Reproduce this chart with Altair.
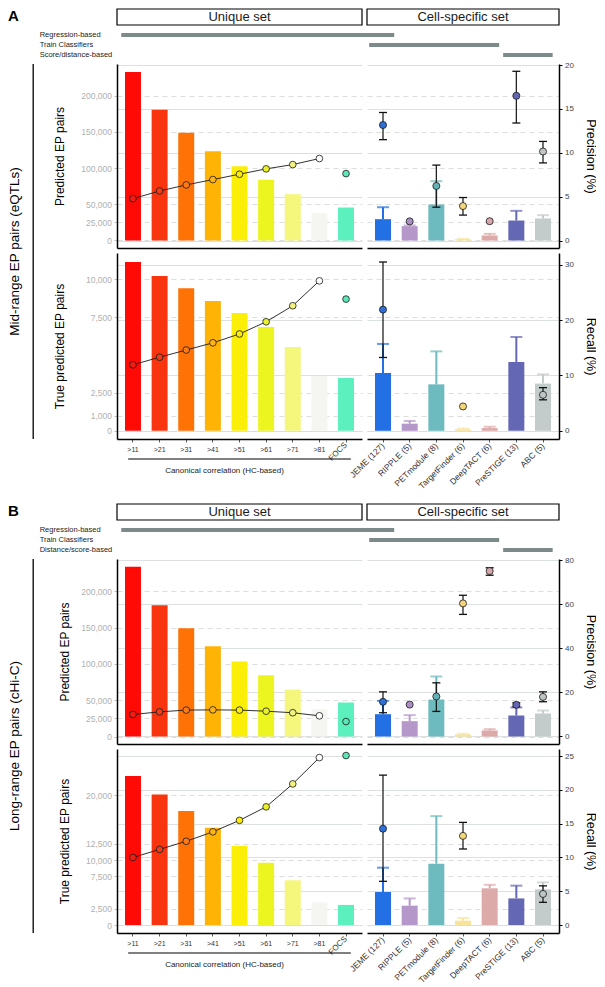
import altair as alt
import pandas as pd

FONT = "Liberation Sans"
W1, W2 = 245, 192          # plot widths of the two facets
STEP = W1 / 9.2            # category step in px

# ---------------- categories & colours ----------------
unique_cats = [">11", ">21", ">31", ">41", ">51", ">61", ">71", ">81", "FOCS"]
unique_colors = ["#FF0A05", "#F8350F", "#FF7205", "#FFB405", "#FBEF08", "#ECF520", "#F5F77C", "#F5F6F2", "#5CF0BE"]
unique_point_colors = ["#F31B12", "#F53A14", "#FF7A14", "#FFB414", "#FAEB10", "#E9F12A", "#F2F27E", "#FFFFFF", "#5AE6B6"]

cell_methods = ["JEME (127)", "RIPPLE (5)", "PETmodule (8)", "TargetFinder (6)",
                "DeepTACT (6)", "PreSTIGE (13)", "ABC (5)"]
cell_bar_colors = ["#2270E3", "#B597C9", "#6DBBBE", "#F8E39B", "#DDAAAA", "#6467B3", "#C3CBCB"]
cell_point_colors = ["#2E6FD8", "#A98FC4", "#62B3B8", "#F4D67A", "#D6A6A9", "#6467B3", "#BFC5C5"]

# ---------------- header groups ----------------
group_labels_A = ["Regression-based", "Train Classifiers", "Score/distance-based"]
group_labels_B = ["Regression-based", "Train Classifiers", "Distance/score-based"]
group_start = [0.16, 9.47, 14.50]   # in category steps from the left edge of the unique facet
group_end = [10.41, 14.35, 16.36]
group_row = [24, 14, 4]             # header rows (px above header bottom)
BOX_LO, BOX_HI = 34, 50

# ---------------- Panel A : mid-range (eQTLs) ----------------
A_pred = [233000, 180600, 148800, 123500, 102800, 83900, 64000, 37800, 45600]
A_prec = [4.77, 5.65, 6.34, 6.95, 7.56, 8.17, 8.66, 9.35, 7.63]
A_cell_pred = [29500, 19800, 49800, 1800, 6900, 27600, 30400]
A_cell_pred_hi = [46000, 20800, 82000, 2300, 9200, 41000, 35000]
A_cell_prec = [13.17, 2.18, 6.22, 3.93, 2.2, 16.5, 10.15]
A_cell_prec_lo = [11.5, None, 3.8, 2.9, None, 13.4, 8.85]
A_cell_prec_hi = [14.6, None, 8.6, 4.9, None, 19.3, 11.3]

A_true = [11160, 10230, 9420, 8580, 7790, 6860, 5540, 3620, 3490]
A_rec = [11.93, 13.3, 14.6, 15.9, 17.5, 19.7, 22.6, 27.1, 23.8]
A_cell_true = [3820, 470, 3070, 100, 180, 4550, 3120]
A_cell_true_hi = [5740, 650, 5250, 150, 270, 6200, 3730]
A_cell_rec = [21.9, None, None, 4.4, None, None, 6.5]
A_cell_rec_lo = [13.25, None, None, None, None, None, 5.6]
A_cell_rec_hi = [30.5, None, None, None, None, None, 7.8]

# ---------------- Panel B : long-range (cHi-C) ----------------
B_pred = [233500, 180700, 149000, 124300, 103200, 84400, 64700, 37600, 46800]
B_prec = [10.0, 11.2, 12.0, 12.1, 12.0, 11.5, 10.8, 9.4, 6.8]
B_cell_pred = [30700, 21100, 50900, 2800, 8300, 28900, 31700]
B_cell_pred_hi = [49000, 29400, 82600, 3700, 10100, 40000, 35800]
B_cell_prec = [15.76, 14.5, 18.2, 60.5, 75.2, 14.4, 18.0]
B_cell_prec_lo = [10.8, None, 11.4, 55.5, 73.3, 13.5, 15.8]
B_cell_prec_hi = [20.3, None, 24.4, 64.2, 76.7, 15.3, 20.3]

B_true = [23000, 20150, 17600, 15000, 12200, 9600, 6900, 3500, 3100]
B_rec = [10.0, 11.2, 12.4, 13.8, 15.5, 17.5, 20.9, 24.8, 25.1]
B_cell_true = [5090, 2980, 9460, 670, 5660, 4100, 5500]
B_cell_true_hi = [8840, 4100, 16800, 1080, 6200, 6070, 6580]
B_cell_rec = [14.27, None, None, 13.2, None, None, 4.6]
B_cell_rec_lo = [6.47, None, None, 11.26, None, None, 3.36]
B_cell_rec_hi = [22.2, None, None, 15.2, None, None, 5.8]

# axis ticks
ticks_pred = [0, 25000, 50000, 100000, 150000, 200000]
ticks_true_A = [0, 1000, 2500, 7500, 10000]
ticks_true_B = [0, 2500, 7500, 10000, 12500, 20000]
ticks_prec_A = [0, 5, 10, 15, 20]
ticks_rec_A = [0, 10, 20, 30]
ticks_prec_B = [0, 20, 40, 60, 80]
ticks_rec_B = [0, 5, 10, 15, 20, 25]

GRID_SOLID = "#d9dcdc"
GRID_DASH = "#d4d4d4"


def unique_x(bottom):
    xs = alt.Scale(domain=unique_cats, paddingInner=0.4, paddingOuter=0.3)
    if bottom:
        ax = alt.Axis(title="Canonical correlation (HC-based)", labelAngle=0,
                      labelExpr="datum.value == 'FOCS' ? '' : datum.label",
                      tickSize=3, tickColor="#333333", tickWidth=0.8, labelPadding=3,
                      labelFontSize=7, labelColor="#333333", labelBaseline="top",
                      domainColor="black", domainWidth=1.5, grid=False,
                      titleFontSize=8, titleFontWeight="normal", titleColor="#222222",
                      titleX=107, titleY=31.5, titleBaseline="middle")
    else:
        ax = alt.Axis(title=None, labels=False, ticks=False, domainColor="black",
                      domainWidth=1.5, grid=False)
    return alt.X("cat:N", scale=xs, axis=ax)


def cell_x(bottom):
    xs = alt.Scale(domain=cell_methods, paddingInner=0.4, paddingOuter=0.3)
    if bottom:
        ax = alt.Axis(title=None, labelAngle=315, labelAlign="right", labelBaseline="middle",
                      tickSize=3, tickColor="#333333", tickWidth=0.8, labelPadding=2,
                      labelFontSize=8.5, labelColor="#333333",
                      domainColor="black", domainWidth=1.5, grid=False)
    else:
        ax = alt.Axis(title=None, labels=False, ticks=False, domainColor="black",
                      domainWidth=1.5, grid=False)
    return alt.X("m:N", scale=xs, axis=ax)


def make_unique(counts, pcts, h, cdom, pdom, cticks, pticks, ytitle, ytitle_x,
                bottom, outer=None, span=0):
    df = pd.DataFrame({"cat": unique_cats, "count": counts, "pct": pcts,
                       "bar": unique_colors, "pt": unique_point_colors})
    cs = alt.Scale(domain=cdom, nice=False, zero=False)
    ps = alt.Scale(domain=pdom, nice=False, zero=False)
    left_axis = alt.Axis(orient="left", values=cticks, format=",d", title=ytitle,
                         titleX=ytitle_x, titleFontSize=12, titleFontWeight="normal",
                         titleColor="black", titleBaseline="bottom",
                         labelFontSize=8.5, labelColor="#b0b0b0", tickColor="#bdbdbd",
                         tickSize=3, labelPadding=2.5, domainColor="black", domainWidth=1.5,
                         grid=True, gridColor=GRID_DASH, gridDash=[5, 4], gridWidth=0.8)
    right_grid = alt.Axis(orient="right", values=pticks, labels=False, ticks=False,
                          domain=False, title=None, grid=True, gridColor=GRID_SOLID,
                          gridWidth=0.9)
    bars = alt.Chart(df).mark_bar().encode(
        x=unique_x(bottom),
        y=alt.Y("count:Q", scale=cs, axis=left_axis),
        color=alt.Color("bar:N", scale=None),
    )
    line = alt.Chart(df.iloc[:8]).mark_line(color="#1a1a1a", strokeWidth=0.9).encode(
        x=unique_x(bottom),
        y=alt.Y("pct:Q", scale=ps, axis=right_grid),
    )
    pts = alt.Chart(df).mark_circle(size=45, stroke="#1a1a1a", strokeWidth=0.8, opacity=1).encode(
        x=unique_x(bottom),
        y=alt.Y("pct:Q", scale=ps, axis=None),
        fill=alt.Fill("pt:N", scale=None),
    )
    layers = [bars, line, pts]
    one = pd.DataFrame({"t": [0]})
    if outer is not None:
        layers.append(alt.Chart(pd.DataFrame({"t": [outer]})).mark_text(
            angle=270, fontSize=13.5, align="center", baseline="middle", color="black"
        ).encode(text="t:N", x=alt.value(-102), y=alt.value(span / 2)))
        layers.append(alt.Chart(one).mark_rule(color="black", strokeWidth=1.3).encode(
            x=alt.value(-83.8), y=alt.value(0), y2=alt.value(span)))
    if bottom:
        layers.append(alt.Chart(pd.DataFrame({"cat": ["FOCS"]})).mark_text(
            angle=315, align="right", baseline="middle", fontSize=8, color="#333333"
        ).encode(x=unique_x(bottom), y=alt.value(h + 5), text="cat:N"))
        layers.append(alt.Chart(one).mark_rule(color="black", strokeWidth=1).encode(
            x=alt.value(0.42 * STEP), x2=alt.value(8.78 * STEP), y=alt.value(h + 20)))
    return alt.layer(*layers).resolve_scale(y="independent").properties(width=W1, height=h)


def make_cell(counts, hi, pct, lo, phi, h, cdom, pdom, cticks, pticks, rtitle, bottom):
    df = pd.DataFrame({"m": cell_methods, "count": counts, "hi": hi, "pct": pct,
                       "lo": lo, "phi": phi, "bar": cell_bar_colors, "pt": cell_point_colors})
    cs = alt.Scale(domain=cdom, nice=False, zero=False)
    ps = alt.Scale(domain=pdom, nice=False, zero=False)
    left_grid = alt.Axis(orient="left", values=cticks, labels=False, ticks=False,
                         domain=False, title=None, grid=True, gridColor=GRID_DASH,
                         gridDash=[5, 4], gridWidth=0.8)
    right_axis = alt.Axis(orient="right", values=pticks, format="d", title=rtitle,
                          titleX=24, titleFontSize=12.5, titleFontWeight="normal",
                          titleColor="black", titleBaseline="bottom",
                          labelFontSize=8, labelColor="#444444", tickColor="black",
                          tickSize=3, labelPadding=2.5, domainColor="black", domainWidth=1.5,
                          grid=True, gridColor=GRID_SOLID, gridWidth=0.9)
    cerr = alt.Chart(df).mark_rule(strokeWidth=2).encode(
        x=cell_x(bottom), y=alt.Y("count:Q", scale=cs, axis=left_grid), y2="hi:Q",
        color=alt.Color("bar:N", scale=None))
    ccap = alt.Chart(df).mark_tick(size=12, thickness=2).encode(
        x=cell_x(bottom), y=alt.Y("hi:Q", scale=cs, axis=None),
        color=alt.Color("bar:N", scale=None))
    bars = alt.Chart(df).mark_bar().encode(
        x=cell_x(bottom), y=alt.Y("count:Q", scale=cs, axis=None),
        color=alt.Color("bar:N", scale=None))
    berr = alt.Chart(df).mark_rule(color="#111111", strokeWidth=1.2).encode(
        x=cell_x(bottom), y=alt.Y("lo:Q", scale=ps, axis=right_axis), y2="phi:Q")
    bcap1 = alt.Chart(df).mark_tick(color="#111111", size=8, thickness=1.3, opacity=1).encode(
        x=cell_x(bottom), y=alt.Y("lo:Q", scale=ps, axis=None))
    bcap2 = alt.Chart(df).mark_tick(color="#111111", size=8, thickness=1.3, opacity=1).encode(
        x=cell_x(bottom), y=alt.Y("phi:Q", scale=ps, axis=None))
    pts = alt.Chart(df).mark_circle(size=50, stroke="#1a1a1a", strokeWidth=0.8, opacity=1).encode(
        x=cell_x(bottom), y=alt.Y("pct:Q", scale=ps, axis=None),
        fill=alt.Fill("pt:N", scale=None))
    return alt.layer(cerr, ccap, bars, berr, bcap1, bcap2, pts).resolve_scale(
        y="independent").properties(width=W2, height=h)


def make_header_left(H, letter, labels):
    xs = alt.Scale(domain=[0, 9.2], nice=False, zero=False)
    ys = alt.Scale(domain=[0, H], nice=False, zero=False)
    box = pd.DataFrame({"x0": [0.0], "x1": [9.2], "y0": [BOX_LO], "y1": [BOX_HI],
                        "xm": [4.6], "ym": [(BOX_LO + BOX_HI) / 2], "t": ["Unique set"]})
    grp = pd.DataFrame({"label": labels, "s": group_start, "e": group_end, "row": group_row})
    grp["y0"] = grp["row"] - 2
    grp["y1"] = grp["row"] + 2
    rect = alt.Chart(box).mark_rect(fill="white", stroke="black", strokeWidth=1.2).encode(
        x=alt.X("x0:Q", scale=xs, axis=None), x2="x1:Q",
        y=alt.Y("y0:Q", scale=ys, axis=None), y2="y1:Q")
    txt = alt.Chart(box).mark_text(fontSize=13, color="#1a1a1a", baseline="middle").encode(
        x=alt.X("xm:Q", scale=xs, axis=None), y=alt.Y("ym:Q", scale=ys, axis=None), text="t:N")
    bars = alt.Chart(grp).mark_rect(color="#7c8b89").encode(
        x=alt.X("s:Q", scale=xs, axis=None), x2="e:Q",
        y=alt.Y("y0:Q", scale=ys, axis=None), y2="y1:Q")
    labs = alt.Chart(grp).mark_text(fontSize=7.5, align="left", baseline="middle",
                                    color="#222222").encode(
        x=alt.value(-77.3), y=alt.Y("row:Q", scale=ys, axis=None), text="label:N")
    let = alt.Chart(pd.DataFrame({"t": [letter], "y": [BOX_HI]})).mark_text(
        fontSize=15, fontWeight="bold", align="left", baseline="top", color="black").encode(
        x=alt.value(-109), y=alt.Y("y:Q", scale=ys, axis=None), text="t:N")
    return alt.layer(rect, txt, bars, labs, let).properties(width=W1, height=H)


def make_header_right(H):
    xs = alt.Scale(domain=[0, 7.2], nice=False, zero=False)
    ys = alt.Scale(domain=[0, H], nice=False, zero=False)
    box = pd.DataFrame({"x0": [0.0], "x1": [7.2], "y0": [BOX_LO], "y1": [BOX_HI],
                        "xm": [3.6], "ym": [(BOX_LO + BOX_HI) / 2], "t": ["Cell-specific set"]})
    rect = alt.Chart(box).mark_rect(fill="white", stroke="black", strokeWidth=1.2).encode(
        x=alt.X("x0:Q", scale=xs, axis=None), x2="x1:Q",
        y=alt.Y("y0:Q", scale=ys, axis=None), y2="y1:Q")
    txt = alt.Chart(box).mark_text(fontSize=13, color="#1a1a1a", baseline="middle").encode(
        x=alt.X("xm:Q", scale=xs, axis=None), y=alt.Y("ym:Q", scale=ys, axis=None), text="t:N")
    return alt.layer(rect, txt).properties(width=W2, height=H)


HA, HB = 50, 110
hA_top, hA_bot = 184, 186
hB_top, hB_bot = 185, 184

hdrA_l = make_header_left(HA, "A", group_labels_A)
hdrA_r = make_header_right(HA)
topA_u = make_unique(A_pred, A_prec, hA_top, [-10370, 244000], [-0.855, 20.13], ticks_pred,
                     ticks_prec_A, "Predicted EP pairs", -51, False,
                     outer="Mid-range EP pairs (eQTLs)", span=hA_top + 5 + hA_bot)
topA_c = make_cell(A_cell_pred, A_cell_pred_hi, A_cell_prec, A_cell_prec_lo, A_cell_prec_hi,
                   hA_top, [-10370, 244000], [-0.855, 20.13], ticks_pred, ticks_prec_A,
                   "Precision (%)", False)
botA_u = make_unique(A_true, A_rec, hA_bot, [-542, 11750], [-1.48, 32.13], ticks_true_A,
                     ticks_rec_A, "True predicted EP pairs", -51, True)
botA_c = make_cell(A_cell_true, A_cell_true_hi, A_cell_rec, A_cell_rec_lo, A_cell_rec_hi,
                   hA_bot, [-542, 11750], [-1.48, 32.13], ticks_true_A, ticks_rec_A,
                   "Recall (%)", True)

hdrB_l = make_header_left(HB, "B", group_labels_B)
hdrB_r = make_header_right(HB)
topB_u = make_unique(B_pred, B_prec, hB_top, [-10320, 244300], [-3.41, 80.68], ticks_pred,
                     ticks_prec_B, "Predicted EP pairs", -46, False,
                     outer="Long-range EP pairs (cHi-C)", span=hB_top + 5 + hB_bot)
topB_c = make_cell(B_cell_pred, B_cell_pred_hi, B_cell_prec, B_cell_prec_lo, B_cell_prec_hi,
                   hB_top, [-10320, 244300], [-3.41, 80.68], ticks_pred, ticks_prec_B,
                   "Precision (%)", False)
botB_u = make_unique(B_true, B_rec, hB_bot, [-1234, 27150], [-1.185, 26.07], ticks_true_B,
                     ticks_rec_B, "True predicted EP pairs", -46, True)
botB_c = make_cell(B_cell_true, B_cell_true_hi, B_cell_rec, B_cell_rec_lo, B_cell_rec_hi,
                   hB_bot, [-1234, 27150], [-1.185, 26.07], ticks_true_B, ticks_rec_B,
                   "Recall (%)", True)

chart = alt.concat(
    hdrA_l, hdrA_r, topA_u, topA_c, botA_u, botA_c,
    hdrB_l, hdrB_r, topB_u, topB_c, botB_u, botB_c,
    columns=2, spacing=5, bounds="flush", padding=0,
).configure(font=FONT).configure_view(stroke=None).configure_axis(
    labelFont=FONT, titleFont=FONT).configure_text(font=FONT)

chart.save("out.html", embed_options={"renderer": "svg", "actions": False})
